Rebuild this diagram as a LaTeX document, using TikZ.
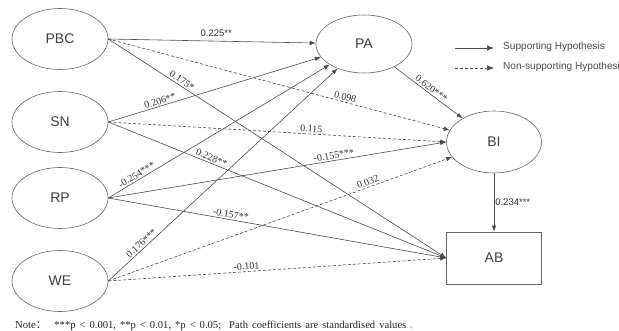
\documentclass[tikz,border=0pt]{standalone}
\usepackage{fontspec}
\setmainfont{Liberation Serif}
\newfontfamily\arialf{Liberation Sans}
\newfontfamily\cjkf{Noto Sans CJK SC}
\usetikzlibrary{shapes.geometric,arrows.meta}
\begin{document}
\begin{tikzpicture}[x=1pt,y=-1pt,
  lat/.style={draw=black!60, line width=0.6pt, ellipse, minimum width=96pt, minimum height=61pt, inner sep=0pt, font=\arialf\fontsize{14}{16}\selectfont, text=black!75},
  conn/.style={draw=black!70, line width=0.6pt, -{Latex[length=6pt,width=4.5pt]}},
  ns/.style={conn, dash pattern=on 3pt off 2pt},
  lab/.style={font=\fontsize{10}{11}\selectfont, sloped, above, inner sep=1.5pt, text=black!80},
  slab/.style={font=\arialf\fontsize{9.5}{11}\selectfont, inner sep=1pt, text=black!80},
  leg/.style={font=\arialf\fontsize{10.1}{12}\selectfont, text=black!70, anchor=west, inner sep=0pt}
]
\useasboundingbox (0,0) rectangle (619,331);
\fill[white] (0,0) rectangle (619,331);

\node[lat] (pbc) at (60,39) {PBC};
\node[lat] (sn) at (60,122) {SN};
\node[lat] (rp) at (60,198) {RP};
\node[lat] (we) at (60,281) {WE};
\node[lat, minimum width=96pt, minimum height=58pt] (pa) at (364,44) {PA};
\node[lat, minimum width=95pt, minimum height=62pt] (bi) at (494,142) {BI};
\node[lat, rectangle, minimum width=95pt, minimum height=52pt] (ab) at (494,258) {AB};

% PBC
\draw[conn] (pbc.east) -- node[slab, pos=0.52, above=3pt] {0.225**} (pa);
\draw[ns] (pbc.east) -- node[lab, pos=0.69] {0.098} (bi);
\draw[conn] (pbc.east) -- node[lab, pos=0.21] {0.175*} (ab.west);
% SN
\draw[conn] (sn.east) -- node[lab, pos=0.25] {0.206**} (pa);
\draw[ns] (sn.east) -- node[lab, pos=0.6] {0.115} (bi.west);
\draw[conn] (sn.east) -- node[lab, pos=0.3] {0.228**} (ab.west);
% RP
\draw[conn] (rp.east) -- node[lab, pos=0.14] {-0.254***} (pa);
\draw[conn] (rp.east) -- node[lab, pos=0.67] {-0.155***} (bi.west);
\draw[conn] (rp.east) -- node[lab, pos=0.36] {-0.157**} (ab.west);
% WE
\draw[conn] (we.east) -- node[lab, pos=0.16] {0.176***} (pa);
\draw[ns] (we.east) -- node[lab, pos=0.76] {0.032} (bi);
\draw[ns] (we.east) -- node[lab, pos=0.41] {-0.101} (ab.west);
% mediators
\draw[conn] (pa) -- node[lab, pos=0.5] {0.620***} (bi);
\draw[conn] (bi.south) -- node[slab, right] {0.234***} (ab.north);

% legend
\coordinate (l1a) at (455,48); \coordinate (l1b) at (494,48);
\coordinate (l2a) at (455,68); \coordinate (l2b) at (494,68);
\draw[conn, -{Latex[length=7pt,width=5.5pt]}] (l1a) -- (l1b);
\draw[ns, -{Latex[length=7pt,width=5.5pt]}] (l2a) -- (l2b);
\node[leg] (t1) at (503,47) {Supporting Hypothesis};
\node[leg] (t2) at (503,67) {Non-supporting Hypothesis};

\node[anchor=west, inner sep=0pt, font=\fontsize{10.6}{12}\selectfont, text=black!85] (note) at (15,326)
  {\spaceskip=4pt plus 1pt Note{\cjkf ：}\ \ ***p < 0.001, **p < 0.01, *p < 0.05;\ \ Path coefficients are standardised values {\cjkf\fontsize{6}{8}\selectfont 。}};
\end{tikzpicture}
\end{document}
